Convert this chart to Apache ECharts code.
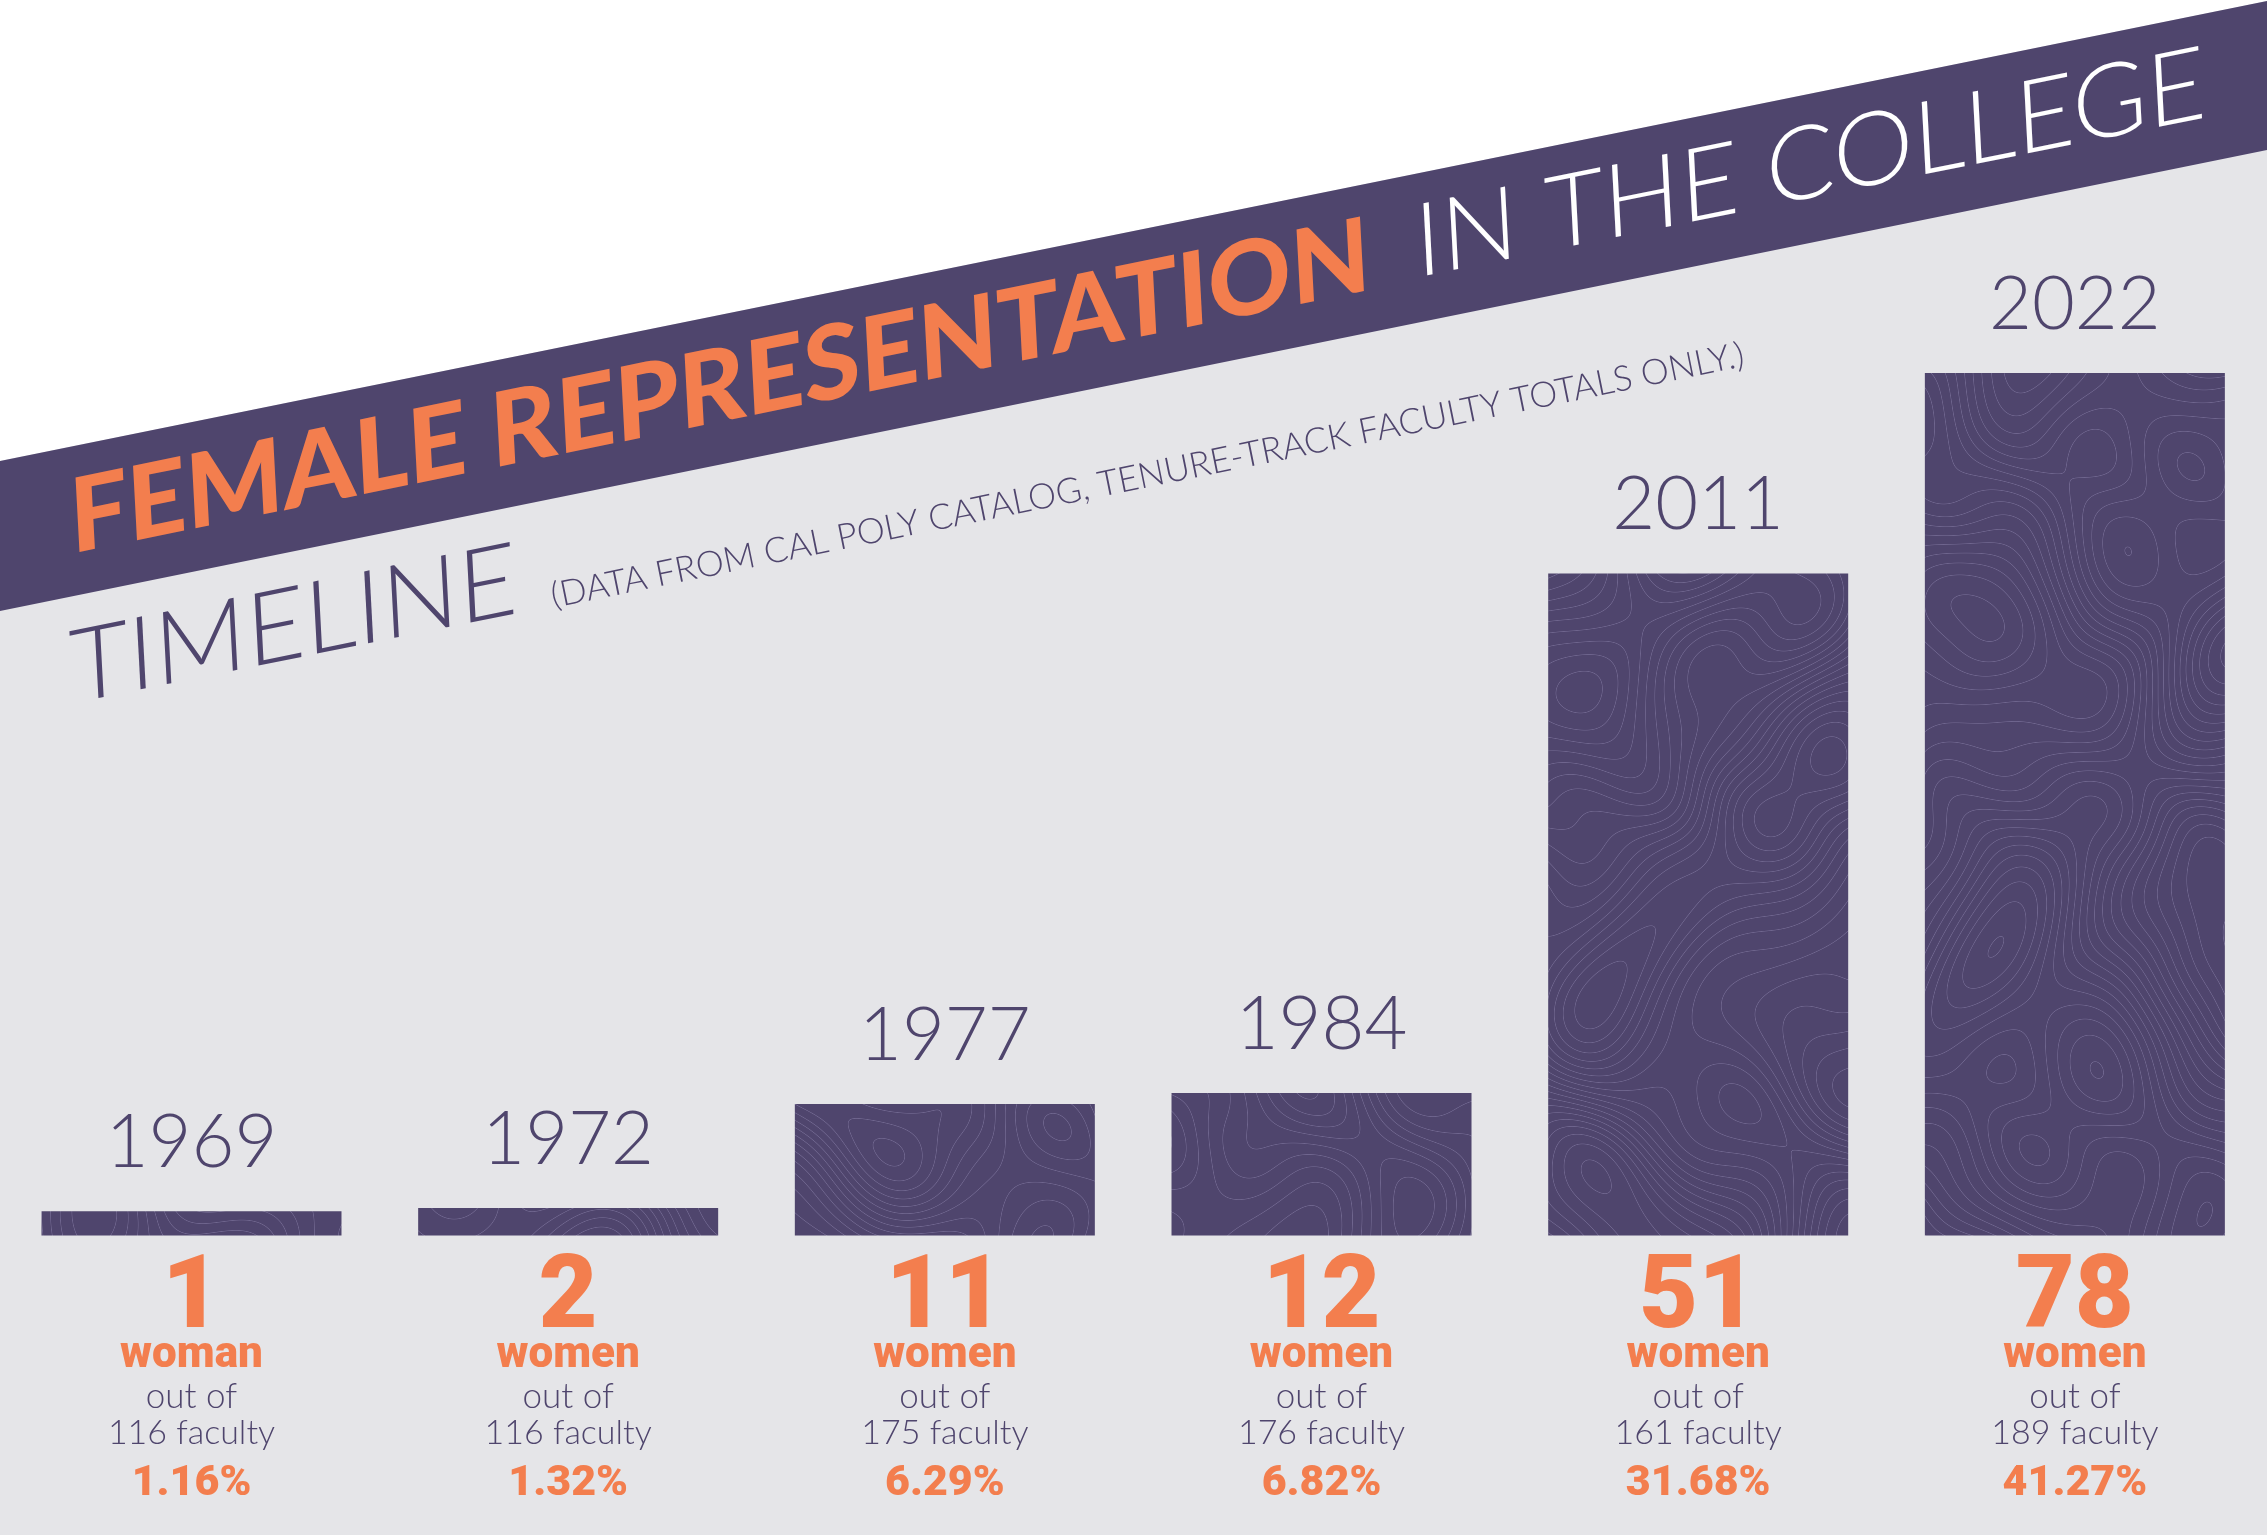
<!DOCTYPE html>
<html><head><meta charset="utf-8">
<script src="https://cdn.jsdelivr.net/npm/echarts@6/dist/echarts.min.js"></script>
<style>html,body{margin:0;padding:0;background:#e5e5e8}#c{width:2267px;height:1535px}</style>
</head><body><div id="c"></div><script>
// ---- data ----
const years = ['1969', '1972', '1977', '1984', '2011', '2022'];
const women = [1, 2, 11, 12, 51, 78];
const faculty = [116, 116, 175, 176, 161, 189];
const percent = [1.16, 1.32, 6.29, 6.82, 31.68, 41.27];
const titleMain = 'FEMALE REPRESENTATION';
const titleRest = 'IN THE COLLEGE';
const heading = 'TIMELINE';
const note = '(DATA FROM CAL POLY CATALOG, TENURE-TRACK FACULTY TOTALS ONLY.)';

// ---- style ----
const PURPLE = '#4f456d', ORANGE = '#f37e4e', GRAY = '#e5e5e8';
const W = 2267, H = 1535;

function field(x, y) {
  const a = x * 0.0085, b = y * 0.0085;
  return Math.sin(a * 1.3 + 1.7 * Math.sin(b * 0.9 + 0.4))
    + 0.9 * Math.sin(b * 1.1 + 1.4 * Math.sin(a * 0.8 + 1.1))
    + 0.55 * Math.sin(a * 2.1 - b * 1.7 + 0.8 * Math.cos(b * 1.5))
    + 0.35 * Math.sin(a * 3.3 + b * 2.9 + 1.0)
    + 0.2 * Math.sin(a * 5.1 - b * 0.7 + 2.0 * Math.sin(b * 2.3));
}
function makeTexture() {
  const c = document.createElement('canvas'); c.width = W; c.height = H;
  const ctx = c.getContext('2d'); ctx.fillStyle = PURPLE; ctx.fillRect(0, 0, W, H);
  const y0 = 340, y1 = 1245, rows = y1 - y0;
  const v = new Float32Array(W * rows);
  for (let j = 0; j < rows; j++) { const y = j + y0; for (let i = 0; i < W; i++) v[j * W + i] = field(i, y) * 4.2; }
  const img = ctx.getImageData(0, y0, W, rows); const d = img.data;
  const base = [79, 69, 109], ln = [146, 137, 178];
  for (let j = 1; j < rows - 1; j++) for (let i = 1; i < W - 1; i++) {
    const k = j * W + i, val = v[k];
    const gx = (v[k + 1] - v[k - 1]) / 2, gy = (v[k + W] - v[k - W]) / 2;
    const g = Math.hypot(gx, gy) + 1e-6;
    const dd = Math.abs(val - Math.round(val)) / g;
    let a = 1 - dd / 0.7; if (a <= 0) continue; a = Math.min(1, a) * 0.48;
    const p = k * 4;
    d[p] = base[0] + (ln[0] - base[0]) * a; d[p + 1] = base[1] + (ln[1] - base[1]) * a; d[p + 2] = base[2] + (ln[2] - base[2]) * a;
  }
  ctx.putImageData(img, 0, y0);
  return c;
}
const mctx = document.createElement('canvas').getContext('2d');
function fit(text, weight, family, target) {
  mctx.font = weight + ' 100px ' + family;
  return 100 * target / mctx.measureText(text).width;
}

const f1 = fit(titleMain, 900, 'Lato', 1312);
const f2 = fit(titleRest, 300, 'Lato', 798);
const f3 = fit(heading, 300, 'Lato', 451);
const f4 = fit(note, 300, 'Lato', 1217);
const ROT = 3 * Math.PI / 180, SK = 8.47 * Math.PI / 180, FULL = 11.47 * Math.PI / 180;
const MID = 0.387;

function skewText(text, x, y, size, weight, color) {
  return { type: 'text', x: x, y: y, rotation: ROT, skewY: SK, z: 10,
    style: { text: text, x: 0, y: -MID * size, fontFamily: 'Lato', fontWeight: weight, fontSize: size,
      fill: color, align: 'left', verticalAlign: 'middle' } };
}

const texture = makeTexture();
const chart = echarts.init(document.getElementById('c'), null, { renderer: 'canvas', width: W, height: H });
chart.setOption({
  backgroundColor: GRAY,
  animation: false,
  grid: { left: 3.15, right: 3.8, top: 190.5, bottom: 299.5 },
  xAxis: {
    type: 'category', data: years,
    axisLine: { show: false }, axisTick: { show: false }, splitLine: { show: false },
    axisLabel: {
      interval: 0, margin: 33, verticalAlign: 'top',
      formatter: function (val, idx) {
        const noun = women[idx] === 1 ? 'woman' : 'women';
        return '{n|' + women[idx] + '}\n{w|' + noun + '}\n{o|out of}\n{f|' + faculty[idx] + ' faculty}\n{p|' + percent[idx].toFixed(2) + '%}';
      },
      rich: {
        n: { fontFamily: 'Roboto', fontWeight: 900, fontSize: 102, lineHeight: 66, color: ORANGE, align: 'center' },
        w: { fontFamily: 'Roboto', fontWeight: 900, fontSize: 44, lineHeight: 42, color: ORANGE, align: 'center' },
        o: { fontFamily: 'Lato', fontWeight: 300, fontSize: 35, lineHeight: 40, color: PURPLE, align: 'center' },
        f: { fontFamily: 'Lato', fontWeight: 300, fontSize: 34, lineHeight: 34, color: PURPLE, align: 'center' },
        p: { fontFamily: 'Roboto', fontWeight: 900, fontSize: 43, lineHeight: 68, color: ORANGE, align: 'center' }
      }
    }
  },
  yAxis: { type: 'value', min: 0, max: 50, show: false },
  graphic: { elements: [
    { type: 'polygon', z: 0, shape: { points: [[0, 0], [W, 0], [W, 1], [0, 461]] }, style: { fill: '#ffffff' } },
    { type: 'polygon', z: 0, shape: { points: [[0, 461], [W, 1], [W, 150], [0, 611]] }, style: { fill: PURPLE } },
    skewText(titleMain, 72, 560, f1, 900, ORANGE),
    skewText(titleRest, 1417, 284, f2, 300, '#ffffff'),
    skewText(heading, 72, 710, f3, 300, PURPLE),
    { type: 'text', x: 554, y: 610, rotation: FULL, z: 10,
      style: { text: note, x: 0, y: -MID * f4, fontFamily: 'Lato', fontWeight: 300, fontSize: f4,
        fill: PURPLE, align: 'left', verticalAlign: 'middle' } }
  ] },
  series: [{
    type: 'bar', data: percent, barWidth: 300, silent: true, z: 2,
    itemStyle: { color: { image: texture, repeat: 'repeat' } },
    emphasis: { disabled: true },
    label: { show: true, position: 'top', distance: 31, formatter: '{b}',
      fontFamily: 'Lato', fontWeight: 300, fontSize: 74, lineHeight: 74, color: PURPLE }
  }]
});
</script></body></html>
